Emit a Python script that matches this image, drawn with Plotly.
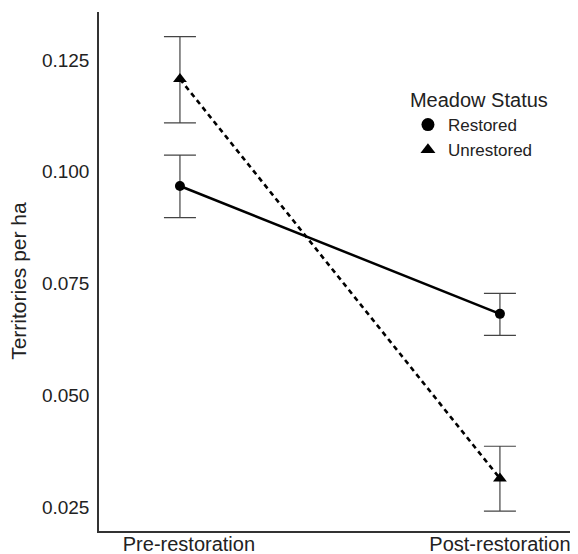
import plotly.graph_objects as go

periods = ["Pre-restoration", "Post-restoration"]
restored_mean = [0.0968, 0.0682]
restored_upper = [0.1037, 0.0728]
restored_lower = [0.0897, 0.0634]
unrestored_mean = [0.1207, 0.0314]
unrestored_upper = [0.1302, 0.0386]
unrestored_lower = [0.1109, 0.0241]
y_ticks = [0.025, 0.050, 0.075, 0.100, 0.125]
y_tick_text = ["0.025", "0.050", "0.075", "0.100", "0.125"]
y_title = "Territories per ha"

xpos = [0, 1]
FONT = "Liberation Sans, Arial, Helvetica, sans-serif"
# the reference's first category label sits slightly right of its points
label_pos = [xpos[0] + 0.028, xpos[1]]


def err(mean, up, lo):
    return dict(type="data", symmetric=False,
                array=[u - m for u, m in zip(up, mean)],
                arrayminus=[m - l for m, l in zip(mean, lo)],
                color="#444444", thickness=1.2, width=16)


fig = go.Figure()
fig.add_trace(go.Scatter(
    x=xpos, y=restored_mean, mode="lines+markers", showlegend=False,
    line=dict(color="black", width=2.5),
    marker=dict(symbol="circle", size=10, color="black"),
    error_y=err(restored_mean, restored_upper, restored_lower)))
fig.add_trace(go.Scatter(
    x=xpos, y=unrestored_mean, mode="lines+markers", showlegend=False,
    line=dict(color="black", width=2.6, dash="5px,4px"),
    marker=dict(symbol="triangle-up", size=12, color="black"),
    error_y=err(unrestored_mean, unrestored_upper, unrestored_lower)))
# legend-only entries
fig.add_trace(go.Scatter(x=[None], y=[None], mode="markers", name="Restored",
                         marker=dict(symbol="circle", size=13, color="black")))
fig.add_trace(go.Scatter(x=[None], y=[None], mode="markers", name="Unrestored",
                         marker=dict(symbol="triangle-up", size=13, color="black")))

# page body adds an 8px margin, so the figure is sized 8px smaller
fig.update_layout(
    width=570, height=546,
    margin=dict(l=91, r=0, t=4, b=23, autoexpand=False),
    paper_bgcolor="white", plot_bgcolor="white",
    font=dict(family=FONT, size=18, color="#222222"),
    legend=dict(title=dict(text="Meadow Status", font=dict(size=20)),
                x=0.645, y=0.867, xanchor="left", yanchor="top",
                font=dict(size=17), bgcolor="rgba(0,0,0,0)",
                itemsizing="trace", tracegroupgap=0),
    annotations=[dict(text=y_title, textangle=-90, xref="paper", yref="paper",
                      x=0, y=0.482, xanchor="center", yanchor="middle",
                      xshift=-80, showarrow=False,
                      font=dict(size=21, color="#222222"))],
)
fig.update_xaxes(range=[-0.253, 1.244], tickvals=label_pos, ticktext=periods,
                 showgrid=False, zeroline=False, showline=True,
                 linecolor="#333333", linewidth=1.5, ticks="",
                 automargin=False, ticklabelstandoff=-6,
                 tickfont=dict(size=20, color="#222222"))
fig.update_yaxes(range=[0.01965, 0.1357], tickvals=y_ticks, ticktext=y_tick_text,
                 showgrid=False, zeroline=False, showline=True,
                 linecolor="#333333", linewidth=1.5, ticks="",
                 automargin=False, ticklabelstandoff=4,
                 tickfont=dict(size=19, color="#222222"))

fig.write_html("out.html")
